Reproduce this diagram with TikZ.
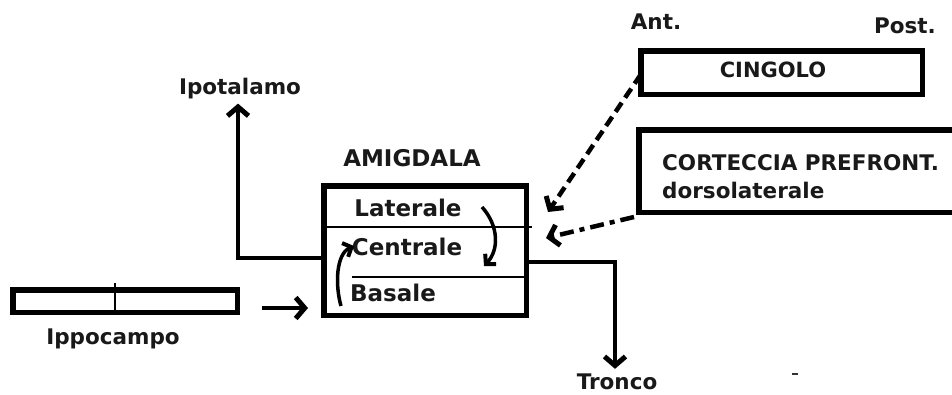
\documentclass[tikz,border=0pt]{standalone}
\usepackage{fontspec}
\newfontfamily\lab{DejaVu Sans}
\usetikzlibrary{arrows.meta}
\begin{document}
\begin{tikzpicture}[x=1pt,y=-1pt,
  txt/.style={font=\lab\bfseries\fontsize{21.5}{24}\selectfont, inner sep=0pt, text=black!90},
  bigtxt/.style={font=\lab\bfseries\fontsize{23}{25}\selectfont, inner sep=0pt, text=black!90},
  box/.style={draw, line width=5.5pt, inner sep=0pt, outer sep=0pt},
  thin/.style={line width=1.2pt},
  tip/.style={-{Straight Barb[length=9pt,width=21pt,line width=5pt]}},
  conn/.style={line width=4.5pt, tip},
  curv/.style={line width=3.5pt, -{Straight Barb[length=7pt,width=15pt,line width=4pt]}}]
\useasboundingbox (0,0) rectangle (952,394);
% boxes
\node[box, minimum width=202.5pt, minimum height=129.5pt] (amig) at (425,250.5) {};
\node[box, minimum width=281.5pt, minimum height=43.5pt] (cing) at (781.5,72.5) {};
\node[box, minimum width=321pt, minimum height=82.5pt] (cort) at (799.5,171) {};
\node[box, minimum width=224.5pt, minimum height=22.5pt] (ippo) at (125,301) {};
% inner divisions
\coordinate (d1a) at (323,227); \coordinate (d1b) at (532,227);
\coordinate (d2a) at (352,277); \coordinate (d2b) at (526,277);
\draw[thin] (d1a) -- (d1b);
\draw[thin] (d2a) -- (d2b);
\coordinate (ipd1) at (115,283); \coordinate (ipd2) at (115,313);
\draw[line width=1.5pt] (ipd1) -- (ipd2);
% texts
\node[bigtxt] (amigt) at (412,158) {AMIGDALA};
\node[bigtxt] (lat) at (408,208) {Laterale};
\node[bigtxt] (cen) at (407,247) {Centrale};
\node[bigtxt] (bas) at (393,293) {Basale};
\node[txt] (ipot) at (240,89) {Ipotalamo};
\node[txt] (ippot) at (113,339) {Ippocampo};
\node[txt] (tron) at (617,382) {Tronco};
\node[txt] (ant) at (656,22) {Ant.};
\node[txt] (post) at (905,26) {Post.};
\node[txt, font=\lab\bfseries\fontsize{21}{24}\selectfont] (cingt) at (773,70) {CINGOLO};
\node[txt, anchor=west] (cort1) at (662,163) {CORTECCIA PREFRONT.};
\node[txt, anchor=west] (cort2) at (662,190) {dorsolaterale};
% connectors
\coordinate (ipc) at (238,258);
\draw[conn] ([yshift=-7.5pt]amig.west) -- (ipc) -- ([yshift=-4pt]ipot.south -| ipc);
\coordinate (trc) at (615,262);
\draw[conn] ([yshift=-11.5pt]amig.east) -- (trc) -- ([yshift=5pt]tron.north -| trc);
\coordinate (ia) at (262,308); \coordinate (ib) at (308,308);
\draw[conn] (ia) -- (ib);
\coordinate (t1) at (548,212);
\draw[line width=4.5pt, dash pattern=on 11pt off 6pt, tip] ([yshift=-2pt]cing.west) -- (t1);
\coordinate (t2) at (546,238); \coordinate (c2) at (634,217);
\draw[line width=4.5pt, dash pattern=on 14pt off 6pt on 5pt off 6pt, tip] (c2) -- (t2);
% internal curved arrows
\coordinate (r1) at (482,207); \coordinate (r2) at (484,266);
\draw[curv] (r1) .. controls (499,226) and (499,250) .. (r2);
\coordinate (l1) at (341,306); \coordinate (l2) at (354,246);
\draw[curv] (l1) .. controls (335,285) and (336,254) .. (l2);
% small stray mark
\coordinate (m1) at (792,374); \coordinate (m2) at (798,374);
\draw[line width=2pt, black!80] (m1) -- (m2);
\end{tikzpicture}
\end{document}
